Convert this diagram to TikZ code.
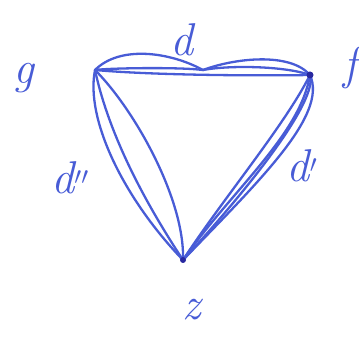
\documentclass[tikz,border=0pt]{standalone}
\usepackage{fontspec}
\begin{document}
\begin{tikzpicture}[x=1pt,y=-1pt,
  pen/.style={draw=penblue,line width=2.3pt,line cap=round},
  lbl/.style={text=penblue,font=\fontsize{46}{46}\selectfont\itshape,inner sep=0pt}]
\definecolor{penblue}{RGB}{72,92,214}
\definecolor{inkdark}{RGB}{40,40,160}
\useasboundingbox (0,0) rectangle (359,339);
\coordinate (A) at (95,70);
\coordinate (B) at (310,75);
\coordinate (C) at (183,260);
\coordinate (M) at (203,70);
% top edge
\draw[pen] (A) .. controls (120,45) and (170,52) .. (M);
\draw[pen] (M) .. controls (235,58) and (290,52) .. (B);
\draw[pen] (A) .. controls (110,68) and (180,67) .. (M);
\draw[pen] (M) .. controls (230,65) and (285,66) .. (B);
\draw[pen] (A) .. controls (150,75) and (250,76) .. (B);
% left edge
\draw[pen] (A) .. controls (85,120) and (125,200) .. (C);
\draw[pen] (A) .. controls (110,140) and (150,210) .. (C);
\draw[pen] (A) .. controls (135,110) and (185,200) .. (C);
% right edge
\draw[pen] (B) .. controls (328,115) and (260,180) .. (C);
\draw[pen] (B) .. controls (300,135) and (232,190) .. (C);
\draw[pen] (B) .. controls (285,125) and (222,200) .. (C);
\draw[pen] (B) .. controls (318,100) and (252,185) .. (C);
\fill[inkdark] (B) circle (3.5);
\fill[inkdark] (C) circle (3);
% labels
\node[lbl] (ld) at (182,40) {d};
\node[lbl] (lg) at (24,78) {g};
\node[lbl] (lf) at (350,68) {f};
\node[lbl] (ld2) at (70,178) {d$''$};
\node[lbl] (ld1) at (302,166) {d$'$};
\node[lbl] (lz) at (192,310) {z};
\end{tikzpicture}
\end{document}
